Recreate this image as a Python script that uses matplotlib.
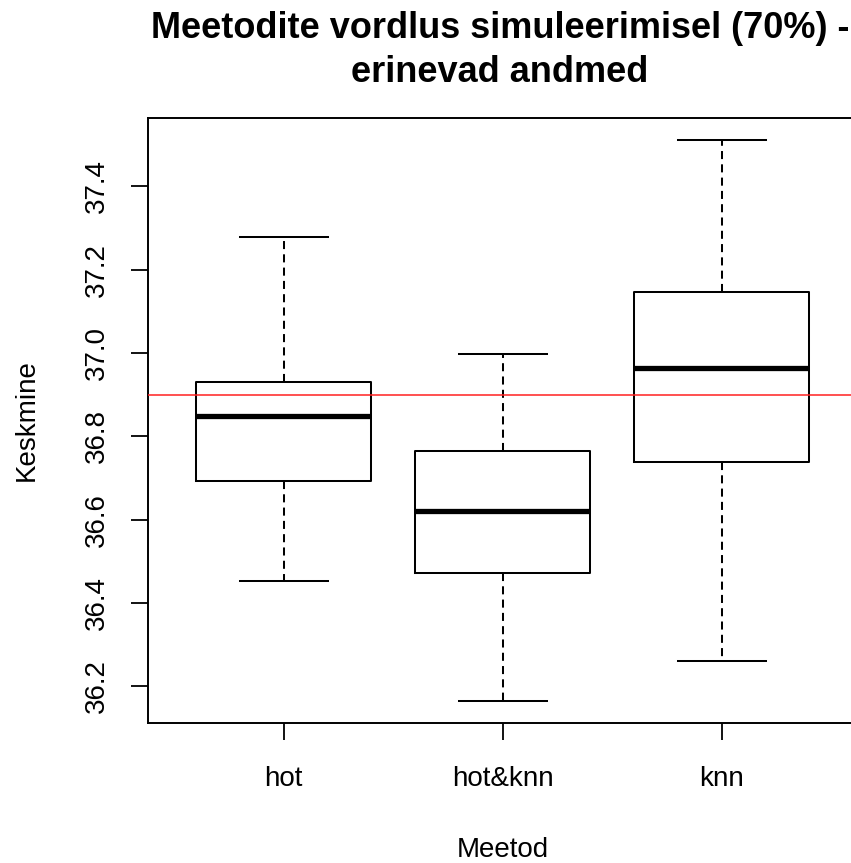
import matplotlib
matplotlib.use("Agg")
import matplotlib.pyplot as plt

plt.rcParams['font.family'] = ['Liberation Sans', 'DejaVu Sans']

methods = ["hot", "hot&knn", "knn"]
whisker_low = [36.454, 36.166, 36.262]
q1 = [36.694, 36.471, 36.738]
median = [36.848, 36.622, 36.963]
q3 = [36.930, 36.766, 37.146]
whisker_high = [37.278, 36.997, 37.510]
reference_value = 36.9
yticks = [36.2, 36.4, 36.6, 36.8, 37.0, 37.2, 37.4]
title_lines = ["Meetodite vordlus simuleerimisel (70%) -", "erinevad andmed"]

stats = []
for i, name in enumerate(methods):
    stats.append(dict(label=name, whislo=whisker_low[i], q1=q1[i], med=median[i],
                      q3=q3[i], whishi=whisker_high[i], fliers=[]))

fig = plt.figure(figsize=(8.51, 8.63), dpi=100)
ax = fig.add_axes([148 / 851, 1 - 723 / 863, (857.5 - 148) / 851, (723 - 118) / 863])

lw = 1.45
ax.bxp(stats, positions=[1, 2, 3], widths=0.8, showfliers=False,
       boxprops=dict(color="black", linewidth=lw),
       whiskerprops=dict(color="black", linewidth=lw, linestyle=(0, (4, 2.6))),
       capprops=dict(color="black", linewidth=lw),
       medianprops=dict(color="black", linewidth=3.8, solid_capstyle="butt"))

ax.axhline(reference_value, color="#ff2020", linewidth=1.1, zorder=3)

lo = min(whisker_low)
hi = max(whisker_high)
ext = 0.04 * (hi - lo)
ax.set_ylim(lo - ext, hi + ext)
ax.set_xlim(0.38, 3.62)

ax.set_yticks(yticks)
ax.set_yticklabels([f"{v:.1f}" for v in yticks], rotation=90, va="center")
ax.set_xticks([1, 2, 3])
ax.set_xticklabels(methods)
ax.tick_params(axis="both", length=12, width=1.3, labelsize=20, color="black")
ax.tick_params(axis="y", pad=15.5)
ax.tick_params(axis="x", pad=19)
for s in ax.spines.values():
    s.set_linewidth(1.4)
    s.set_color("black")

ax.set_xlabel("Meetod", fontsize=20, labelpad=32.5)
ax.set_ylabel("Keskmine", fontsize=20, labelpad=32)

# two-line bold title, each line placed on its own baseline
for text, baseline in zip(title_lines, [38, 82]):
    fig.text(500 / 851, 1 - baseline / 863, text, ha="center", va="baseline",
             fontsize=26, fontweight="bold")

fig.savefig("out.png", dpi=100)
